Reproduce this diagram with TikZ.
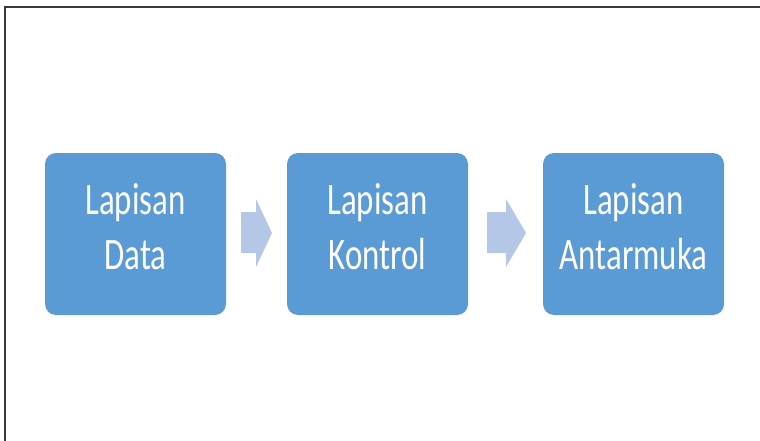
\documentclass[tikz,border=0pt]{standalone}
\usepackage{fontspec}
\setmainfont{Carlito}
\definecolor{layerblue}{HTML}{5B9BD5}
\definecolor{flowblue}{HTML}{B4C7E7}
\definecolor{frameline}{HTML}{3A3A3A}
\newcommand{\layerlabel}[2]{\scalebox{0.73}[1]{\begin{tabular}{@{}c@{}}#1\\#2\end{tabular}}}
\tikzset{
  layer/.style={fill=layerblue, rounded corners=11pt, minimum width=181pt,
    minimum height=162pt, inner sep=0pt, text=white,
    font=\fontsize{45}{55}\selectfont},
  flow/.style={fill=flowblue},
  frame/.style={draw=frameline, line width=2pt}
}
\begin{document}
\begin{tikzpicture}[x=1pt,y=-1pt]
  \useasboundingbox (0,0) rectangle (760,441);
  % open frame: top and left edges only
  \draw[frame] (5,441) -- (5,7) -- (760,7);

  % the three layers
  \node[layer] (data)    at (135.5,234) {};
  \node[layer] (kontrol) at (377.5,234) {};
  \node[layer] (antar)   at (633.5,234) {};
  \node[text=white, font=\fontsize{45}{55}\selectfont, inner sep=0pt] (datatxt)
    at ([yshift=3pt]data.center) {\layerlabel{Lapisan}{Data}};
  \node[text=white, font=\fontsize{45}{55}\selectfont, inner sep=0pt] (kontroltxt)
    at ([yshift=3pt]kontrol.center) {\layerlabel{Lapisan}{Kontrol}};
  \node[text=white, font=\fontsize{45}{55}\selectfont, inner sep=0pt] (antartxt)
    at ([yshift=3pt]antar.center) {\layerlabel{Lapisan}{Antarmuka}};

  % block arrows between the layers
  \fill[flow] (241,212) -- (256,212) -- (256,199) -- (272,233)
              -- (256,267) -- (256,253) -- (241,253) -- cycle;
  \fill[flow] (487,212) -- (506,212) -- (506,199) -- (526,233)
              -- (506,267) -- (506,253) -- (487,253) -- cycle;
\end{tikzpicture}
\end{document}
